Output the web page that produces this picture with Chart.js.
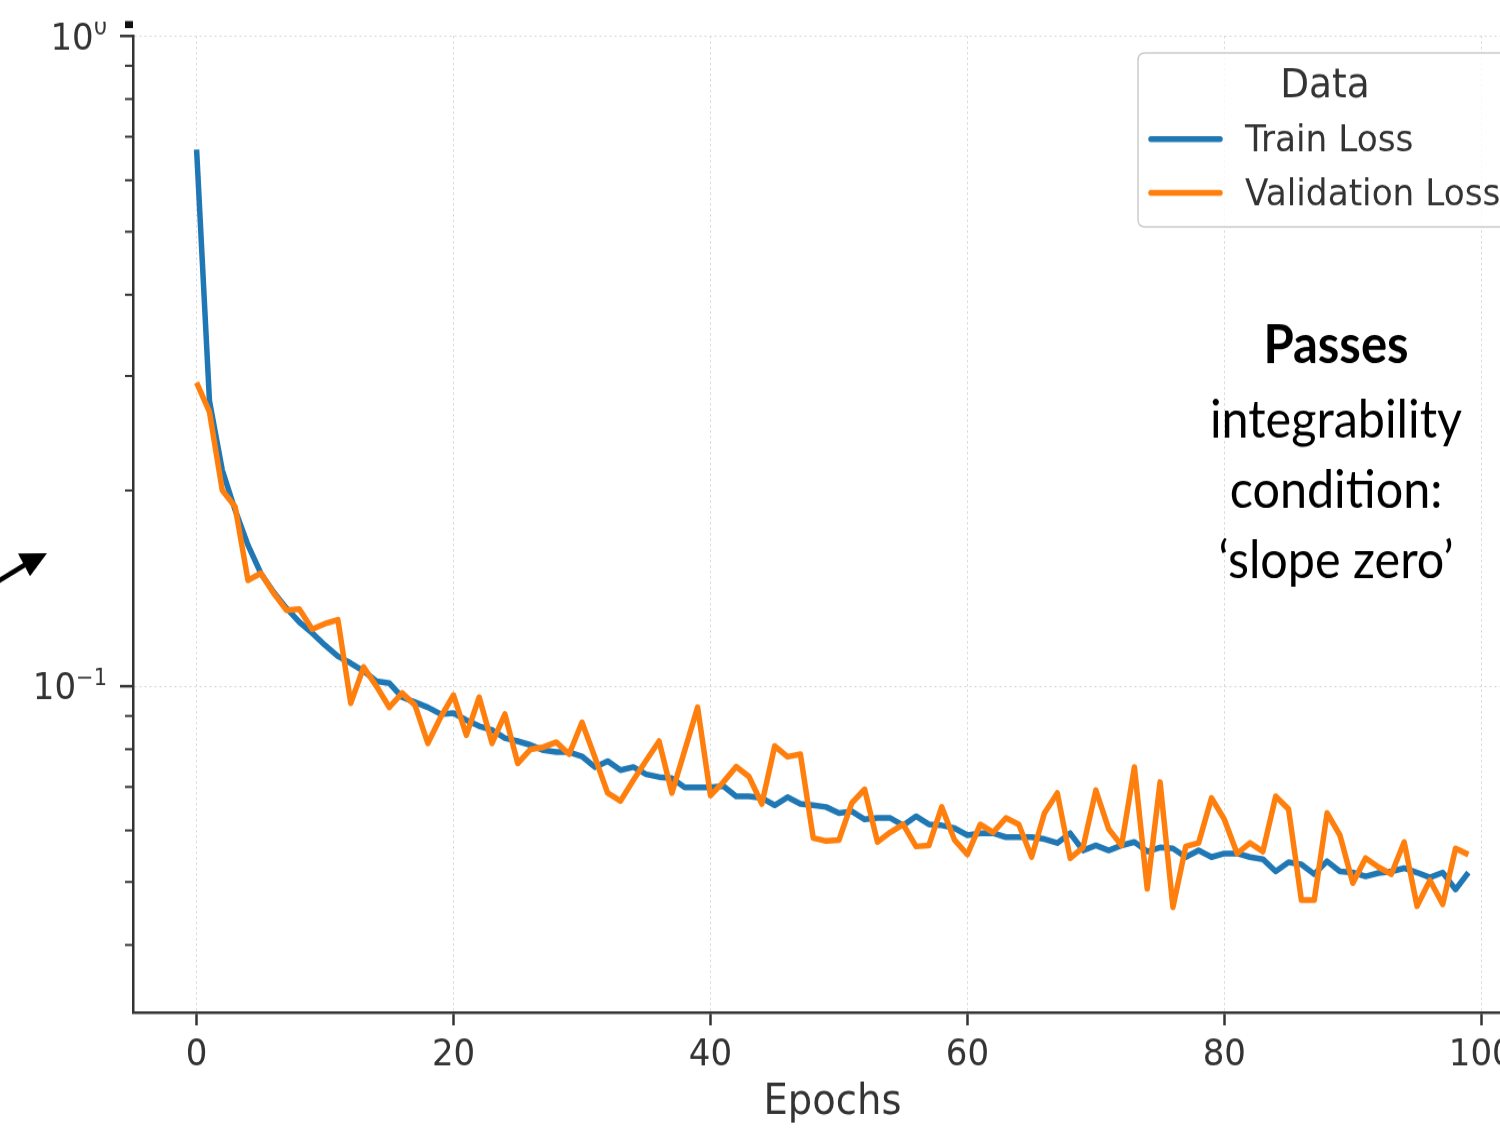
<!DOCTYPE html>
<html><head><meta charset="utf-8">
<script src="https://cdn.jsdelivr.net/npm/chart.js@4"></script>
<style>
html,body{margin:0;padding:0;background:#fff;overflow:hidden;}
#outer{position:relative;width:1500px;height:1128px;overflow:hidden;background:#fff;}
#inner{position:absolute;left:0;top:0;width:1560px;height:1044px;transform:scaleY(1.08046);transform-origin:0 0;}
canvas{display:block;}
</style></head><body>
<div id="outer"><div id="inner"><canvas id="c" width="1560" height="1044"></canvas></div></div>
<script>
const epochs = [0,1,2,3,4,5,6,7,8,9,10,11,12,13,14,15,16,17,18,19,20,21,22,23,24,25,26,27,28,29,30,31,32,33,34,35,36,37,38,39,40,41,42,43,44,45,46,47,48,49,50,51,52,53,54,55,56,57,58,59,60,61,62,63,64,65,66,67,68,69,70,71,72,73,74,75,76,77,78,79,80,81,82,83,84,85,86,87,88,89,90,91,92,93,94,95,96,97,98,99];
const trainLoss = [
0.669, 0.275, 0.215, 0.1866, 0.1648, 0.1492, 0.1395, 0.1318, 0.1255, 0.1207,
0.1156, 0.1112, 0.1085, 0.1055, 0.1018, 0.1011, 0.0962, 0.0945, 0.0928, 0.0906,
0.0909, 0.0887, 0.0868, 0.0856, 0.0832, 0.0823, 0.0812, 0.0797, 0.0792, 0.0792,
0.0780, 0.0751, 0.0767, 0.0743, 0.0751, 0.0732, 0.0725, 0.0722, 0.0699, 0.0699,
0.0699, 0.0702, 0.0677, 0.0677, 0.0673, 0.0656, 0.0675, 0.0659, 0.0656, 0.0652,
0.0638, 0.0642, 0.0624, 0.0627, 0.0627, 0.0611, 0.0631, 0.0613, 0.0611, 0.0605,
0.0590, 0.0594, 0.0594, 0.0586, 0.0586, 0.0586, 0.0582, 0.0574, 0.0594, 0.0559,
0.0569, 0.0559, 0.0569, 0.0576, 0.0557, 0.0565, 0.0563, 0.0546, 0.0559, 0.0546,
0.0553, 0.0553, 0.0546, 0.0542, 0.0519, 0.0536, 0.0532, 0.0514, 0.0538, 0.0519,
0.0517, 0.0510, 0.0516, 0.0519, 0.0525, 0.0517, 0.0508, 0.0517, 0.0487, 0.0517];
const validationLoss = [
0.293, 0.2642, 0.2002, 0.1888, 0.1455, 0.1492, 0.1390, 0.1309, 0.1314, 0.1224,
0.1248, 0.1265, 0.0942, 0.1070, 0.1000, 0.0928, 0.0976, 0.0935, 0.0817, 0.0896,
0.0969, 0.0841, 0.0962, 0.0817, 0.0906, 0.0761, 0.0800, 0.0806, 0.0820, 0.0786,
0.0880, 0.0778, 0.0685, 0.0666, 0.0717, 0.0769, 0.0823, 0.0685, 0.0797, 0.0928,
0.0679, 0.0712, 0.0752, 0.0726, 0.0659, 0.0809, 0.0779, 0.0786, 0.0584, 0.0578,
0.0580, 0.0661, 0.0694, 0.0576, 0.0596, 0.0613, 0.0567, 0.0569, 0.0652, 0.0580,
0.0551, 0.0613, 0.0596, 0.0627, 0.0613, 0.0546, 0.0638, 0.0685, 0.0544, 0.0565,
0.0692, 0.0603, 0.0569, 0.0751, 0.0488, 0.0712, 0.0457, 0.0567, 0.0574, 0.0673,
0.0624, 0.0553, 0.0574, 0.0557, 0.0677, 0.0647, 0.0469, 0.0469, 0.0638, 0.0590,
0.0498, 0.0544, 0.0527, 0.0514, 0.0576, 0.0459, 0.0503, 0.0462, 0.0563, 0.0551];
const xTicks = [0, 20, 40, 60, 80, 100];
const yMajorTicks = [0.1, 1];
const yMajorLabels = [['10', '\u22121'], ['10', '0']];
const yMinorTicks = [0.04, 0.05, 0.06, 0.07, 0.08, 0.09, 0.2, 0.3, 0.4, 0.5, 0.6, 0.7, 0.8, 0.9];
const seriesNames = ['Train Loss', 'Validation Loss'];
const seriesColors = ['#1f77b4', '#ff7f0e'];
const legendTitle = 'Data';
const xTitle = 'Epochs';
const noteLines = ['Passes', 'integrability', 'condition:', '\u2018slope zero\u2019'];

const TXT = '#333333';
const GRID = '#d4d4d4';

const extras = {
  id: 'extras',
  afterDraw(chart) {
    const ctx = chart.ctx, y = chart.scales.y, a = chart.chartArea;
    ctx.save();
    // y tick marks
    ctx.strokeStyle = TXT;
    const tick = (v, len, w) => {
      const p = y.getPixelForValue(v);
      ctx.lineWidth = w; ctx.beginPath(); ctx.moveTo(a.left - len, p); ctx.lineTo(a.left, p); ctx.stroke();
    };
    yMinorTicks.forEach(v => tick(v, 8, 2));
    yMajorTicks.forEach(v => tick(v, 13, 2.5));
    // y tick labels (mathtext style)
    ctx.fillStyle = TXT; ctx.textBaseline = 'alphabetic'; ctx.textAlign = 'right';
    yMajorTicks.forEach((v, i) => {
      const p = y.getPixelForValue(v);
      const [base, ex] = yMajorLabels[i];
      ctx.font = '21px "DejaVu Sans"';
      const we = ctx.measureText(ex).width;
      ctx.save();
      ctx.beginPath(); ctx.rect(0, 20, 140, 1100); ctx.clip();
      ctx.fillText(ex, 107, p + 12.3 - 13.5);
      ctx.restore();
      ctx.font = '34px "DejaVu Sans"';
      ctx.fillText(base, 107 - we, p + 12.3);
    });
    // small black mark above axis
    ctx.fillStyle = '#111';
    ctx.fillRect(125, 19.5, 8, 6.5);
    // legend
    const lx = 1138, ly = 49, lw = 374, lh = 161, r = 7;
    ctx.beginPath();
    ctx.moveTo(lx + r, ly); ctx.lineTo(lx + lw - r, ly); ctx.quadraticCurveTo(lx + lw, ly, lx + lw, ly + r);
    ctx.lineTo(lx + lw, ly + lh - r); ctx.quadraticCurveTo(lx + lw, ly + lh, lx + lw - r, ly + lh);
    ctx.lineTo(lx + r, ly + lh); ctx.quadraticCurveTo(lx, ly + lh, lx, ly + lh - r);
    ctx.lineTo(lx, ly + r); ctx.quadraticCurveTo(lx, ly, lx + r, ly); ctx.closePath();
    ctx.fillStyle = 'rgba(255,255,255,0.8)'; ctx.fill();
    ctx.strokeStyle = '#cccccc'; ctx.lineWidth = 1.5; ctx.stroke();
    ctx.fillStyle = TXT; ctx.textAlign = 'center';
    ctx.font = '37.5px "DejaVu Sans"';
    ctx.fillText(legendTitle, 1325, 90);
    ctx.textAlign = 'left'; ctx.font = '34.3px "DejaVu Sans"';
    const rows = [[128.7, 140.4], [178.4, 189.8]];
    rows.forEach(([ly2, tb], i) => {
      ctx.strokeStyle = seriesColors[i]; ctx.lineWidth = 5.5; ctx.lineCap = 'round';
      ctx.beginPath(); ctx.moveTo(1151, ly2); ctx.lineTo(1220, ly2); ctx.stroke();
      ctx.fillStyle = TXT; ctx.fillText(seriesNames[i], 1245, tb);
    });
    // annotation text
    ctx.fillStyle = '#000'; ctx.textAlign = 'center';
    const bases = [336, 404.6, 470.4, 535.2];
    noteLines.forEach((t, i) => {
      ctx.font = i === 0 ? 'bold 49px Lato' : '48.5px Lato';
      ctx.fillText(t, 1336, bases[i]);
    });
    // arrow at left
    ctx.strokeStyle = '#000'; ctx.lineWidth = 4.5; ctx.lineCap = 'butt';
    ctx.beginPath(); ctx.moveTo(-2, 538); ctx.lineTo(28, 521); ctx.stroke();
    ctx.fillStyle = '#000';
    ctx.beginPath(); ctx.moveTo(47, 512); ctx.lineTo(18, 512.3); ctx.lineTo(30, 533.3); ctx.closePath(); ctx.fill();
    ctx.restore();
  }
};

new Chart(document.getElementById('c'), {
  type: 'line',
  data: {
    datasets: [
      { label: seriesNames[0], data: epochs.map((e, i) => ({ x: e, y: trainLoss[i] })), borderColor: seriesColors[0], backgroundColor: seriesColors[0], borderWidth: 5.5, pointRadius: 0, tension: 0, order: 2, borderJoinStyle: 'round', fill: false },
      { label: seriesNames[1], data: epochs.map((e, i) => ({ x: e, y: validationLoss[i] })), borderColor: seriesColors[1], backgroundColor: seriesColors[1], borderWidth: 5.5, pointRadius: 0, tension: 0, order: 1, borderJoinStyle: 'round', fill: false }
    ]
  },
  options: {
    responsive: false, animation: false, devicePixelRatio: 1,
    layout: { padding: { top: 33.3, right: 28, left: 0, bottom: 0 } },
    plugins: { legend: { display: false }, tooltip: { enabled: false } },
    scales: {
      x: {
        type: 'linear', min: -4.95, max: 103.95,
        afterBuildTicks: s => { s.ticks = xTicks.map(v => ({ value: v })); },
        afterFit: s => { s.height = 107; },
        grid: { color: GRID, lineWidth: 1, drawTicks: true, tickLength: 12, tickWidth: 2.5, tickColor: TXT },
        border: { display: true, color: TXT, width: 2.5, dash: [2, 3] },
        ticks: { color: TXT, font: { family: 'DejaVu Sans', size: 34 }, padding: 8, maxRotation: 0, autoSkip: false },
        title: { display: true, text: xTitle, color: TXT, font: { family: 'DejaVu Sans', size: 38.5 }, padding: { top: 0, bottom: 0 } }
      },
      y: {
        type: 'logarithmic', min: 0.0315, max: 1.0,
        afterBuildTicks: s => { s.ticks = yMinorTicks.concat(yMajorTicks).sort((p, q) => p - q).map(v => ({ value: v, major: yMajorTicks.includes(v) })); },
        afterFit: s => { s.width = 133; },
        grid: { color: c => (c.tick && yMajorTicks.includes(c.tick.value)) ? GRID : 'rgba(0,0,0,0)', lineWidth: 1, drawTicks: false },
        border: { display: true, color: TXT, width: 2.5, dash: [2, 3] },
        ticks: { display: false }
      }
    }
  },
  plugins: [extras]
});
</script>
</body></html>
